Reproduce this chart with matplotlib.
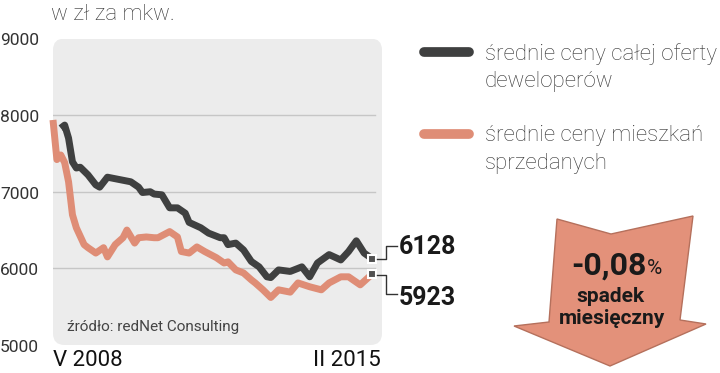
import matplotlib.pyplot as plt
from matplotlib.patches import FancyBboxPatch, Polygon
from matplotlib.lines import Line2D
from matplotlib.transforms import blended_transform_factory

plt.rcParams['font.family'] = ['Roboto', 'DejaVu Sans']

# month index (0 = V 2008, 82 = II 2015) and prices in zł per m2
offer_months = [2, 3, 4, 5, 6, 7, 9, 11, 12, 14, 15, 18, 20, 22, 23, 25, 26, 28, 30, 32,
                34, 35, 38, 40, 43, 44, 45, 47, 49, 51, 53, 55, 56, 58, 61, 64, 66, 68,
                71, 74, 76, 78, 80, 82]
offer_prices = [7830, 7870, 7700, 7390, 7310, 7320, 7220, 7090, 7060, 7190, 7180, 7150,
                7130, 7060, 6990, 7000, 6970, 6960, 6790, 6790, 6720, 6600, 6530, 6460,
                6400, 6400, 6310, 6330, 6240, 6090, 6020, 5890, 5880, 5980, 5960, 6020,
                5890, 6070, 6180, 6110, 6220, 6360, 6200, 6128]

sold_months = [0, 1, 2, 3, 4, 5, 6, 8, 9, 11, 13, 14, 16, 18, 19, 21, 22, 24, 26, 27, 30,
               32, 33, 35, 37, 39, 42, 44, 45, 47, 49, 51, 52, 54, 56, 58, 61, 63, 66, 69,
               71, 74, 76, 78, 79, 82]
sold_prices = [7937, 7420, 7480, 7380, 7130, 6700, 6530, 6310, 6270, 6200, 6270, 6150,
               6310, 6400, 6500, 6330, 6400, 6410, 6400, 6400, 6480, 6410, 6220, 6200,
               6280, 6220, 6140, 6070, 6085, 5980, 5940, 5850, 5810, 5720, 5620, 5720,
               5690, 5810, 5760, 5720, 5810, 5890, 5890, 5820, 5785, 5923]

y_ticks = [5000, 6000, 7000, 8000, 9000]
x_labels = ['V 2008', 'II 2015']
last_offer, last_sold = '6128', '5923'

DARK = '#3f4040'
SALMON = '#df8d76'
W, H = 720, 373


def fx(x):
    return x / W


def fy(y):
    return 1 - y / H


fig = plt.figure(figsize=(7.2, 3.73), dpi=100)
ax = fig.add_axes([fx(53), fy(345), (382 - 53) / W, (345 - 38.5) / H])
ax.set_xlim(0, 84.6)
ax.set_ylim(5000, 9000)
ax.axis('off')

bg = FancyBboxPatch((0, 0), 1, 1, boxstyle='round,pad=0,rounding_size=0.035',
                    mutation_aspect=329 / 306.5, transform=ax.transAxes,
                    facecolor='#ececec', edgecolor='none', zorder=0)
ax.add_patch(bg)
for v in [6000, 7000, 8000]:
    ax.axhline(v, xmin=0, xmax=0.98, color='#c6c6c6', lw=1, zorder=1)

ax.plot(offer_months, offer_prices, color=DARK, lw=5, solid_joinstyle='round',
        solid_capstyle='butt', clip_on=False, zorder=3)
ax.plot(sold_months, sold_prices, color=SALMON, lw=5, solid_joinstyle='round',
        solid_capstyle='butt', clip_on=False, zorder=2)
ax.plot([offer_months[-1]], [offer_prices[-1]], marker='s', ms=6, mfc='#505050',
        mec='white', mew=1.5, clip_on=False, zorder=4)
ax.plot([sold_months[-1]], [sold_prices[-1]], marker='s', ms=6, mfc='#505050',
        mec='white', mew=1.5, clip_on=False, zorder=4)

# y labels at left edge of figure
tr = blended_transform_factory(fig.transFigure, ax.transData)
for v in y_ticks:
    ax.text(0.0, v - 30, str(v), transform=tr, ha='left', va='center',
            fontsize=12.5, color='#333333', clip_on=False)

fig.text(fx(51), fy(15), 'w zł za mkw.', ha='left', va='center', fontsize=16,
         color='#333333', fontweight='light')
fig.text(fx(53), fy(360), x_labels[0], ha='left', va='center', fontsize=16, color='#111111')
fig.text(fx(381), fy(360), x_labels[1], ha='right', va='center', fontsize=16, color='#111111')
fig.text(fx(67), fy(327), 'źródło: redNet Consulting', ha='left', va='center',
         fontsize=11, color='#444444')

# connectors and end values
con = dict(color='#333333', lw=1, transform=fig.transFigure)
fig.add_artist(Line2D([fx(377), fx(386), fx(386), fx(397)],
                      [fy(259), fy(259), fy(246), fy(246)], **con))
fig.add_artist(Line2D([fx(377), fx(386), fx(386), fx(397)],
                      [fy(275), fy(275), fy(294), fy(294)], **con))
fig.text(fx(399), fy(247), last_offer, ha='left', va='center', fontsize=18,
         fontweight='bold', color='#1a1a1a')
fig.text(fx(399), fy(298), last_sold, ha='left', va='center', fontsize=18,
         fontweight='bold', color='#1a1a1a')

# legend
fig.add_artist(Line2D([fx(424), fx(469)], [fy(52), fy(52)], color=DARK, lw=7,
                      solid_capstyle='round', transform=fig.transFigure))
fig.add_artist(Line2D([fx(424), fx(469)], [fy(134), fy(134)], color=SALMON, lw=7,
                      solid_capstyle='round', transform=fig.transFigure))
legend_lines = [('średnie ceny całej oferty', 54), ('deweloperów', 82),
                ('średnie ceny mieszkań', 136), ('sprzedanych', 163)]
for txt, ypx in legend_lines:
    fig.text(fx(485), fy(ypx), txt, ha='left', va='center', fontsize=16,
             color='#333333', fontweight='light')

# big arrow
arrow_px = [(557, 219), (611, 234), (693, 216), (680, 320), (706, 324), (610, 366),
            (514, 326), (549, 322)]
arrow = Polygon([(fx(x), fy(y)) for x, y in arrow_px], closed=True,
                facecolor='#e3917a', edgecolor='#b5705c', lw=1,
                transform=fig.transFigure)
fig.add_artist(arrow)
fig.text(fx(647), fy(266), '-0,08', ha='right', va='center', fontsize=23,
         fontweight='bold', color='#1a1a1a')
fig.text(fx(647), fy(268), '%', ha='left', va='center', fontsize=15, color='#1a1a1a')
fig.text(fx(610), fy(297), 'spadek', ha='center', va='center', fontsize=15,
         fontweight='bold', color='#1a1a1a')
fig.text(fx(612), fy(318), 'miesięczny', ha='center', va='center', fontsize=15,
         fontweight='bold', color='#1a1a1a')

fig.savefig('out.png', dpi=100)
